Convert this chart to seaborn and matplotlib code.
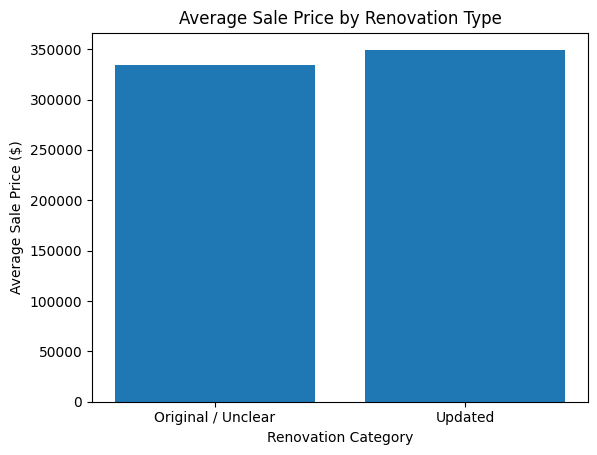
import matplotlib
matplotlib.use("Agg")
import matplotlib.pyplot as plt
import seaborn as sns
import pandas as pd

categories = ["Original / Unclear", "Updated"]
avg_price = [334500, 349000]

df = pd.DataFrame({"Renovation Category": categories, "Average Sale Price": avg_price})

fig = plt.figure(figsize=(5.97, 4.55), dpi=100)
ax = fig.add_axes([92 / 597, 1 - 401.7 / 455, (588 - 92) / 597, (401.7 - 32.7) / 455])
sns.barplot(data=df, x="Renovation Category", y="Average Sale Price", color="#1f77b4",
            saturation=1, width=0.8, linewidth=0, errorbar=None, ax=ax)
ax.set_xlim(-0.49, 1.49)
ax.set_title("Average Sale Price by Renovation Type")
ax.set_xlabel("Renovation Category")
ax.set_ylabel("Average Sale Price ($)")
fig.savefig("out.png", dpi=100)
